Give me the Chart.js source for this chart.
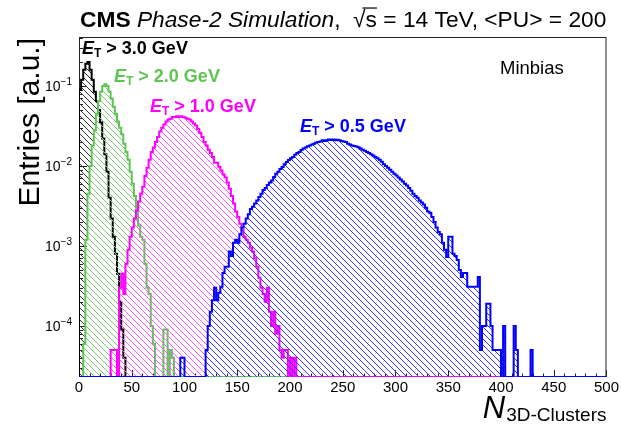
<!DOCTYPE html>
<html><head><meta charset="utf-8">
<script src="https://cdn.jsdelivr.net/npm/chart.js@4.4.1/dist/chart.umd.min.js"></script>
<style>html,body{margin:0;padding:0;background:#fff;}#wrap{width:621px;height:425px;}</style>
</head><body><div id="wrap"><canvas id="c" width="621" height="425"></canvas></div>
<script>
// ---------------- data ----------------
const BIN_WIDTH = 2;
const X_MIN = 0, X_MAX = 500;
const Y_MIN = 2.3e-5, Y_MAX = 0.41;
const xTickValues = [0, 50, 100, 150, 200, 250, 300, 350, 400, 450, 500];
const yTickValues = [1e-4, 1e-3, 1e-2, 1e-1];
const yTickExponents = ['\u22124', '\u22123', '\u22122', '\u22121'];

const seriesLabels = ['3.0', '2.0', '1.0', '0.5'];

const blackStart = 0;
const blackValues = [0.09, 0.12, 0.16, 0.19, 0.2, 0.16, 0.12, 0.085, 0.065, 0.05,
  0.035, 0.022, 0.014, 0.0085, 0.004, 0.0022, 0.0013, 0.0008, 0.00045, 0.0002,
  0.00009, 0.00004];

const greenStart = 4;
const greenValues = [0.00006, 0.0012, 0.0045, 0.01, 0.018, 0.028, 0.045, 0.065, 0.085, 0.1,
  0.105, 0.1, 0.085, 0.07, 0.055, 0.045, 0.036, 0.03, 0.025, 0.019,
  0.015, 0.012, 0.0085, 0.006, 0.0042, 0.003, 0.0018, 0.0013, 0.0012, 0.0006,
  0.0003, 0.00025, 0.0001, 0.00006, 0, 0, 0, 0, 0.00009, 0.00009,
  0, 0.00005, 0.00004];

const magentaStart = 30;
const magentaValues = [0.00005, 0.00005, 0.00005, 0, 0.0003, 0.00045, 0.00025, 0.0006, 0.0009, 0.0013,
  0.0017, 0.0022, 0.0028, 0.0036, 0.0045, 0.0055, 0.0075, 0.0095, 0.012, 0.015,
  0.017, 0.02, 0.023, 0.027, 0.03, 0.033, 0.036, 0.038, 0.039, 0.041,
  0.041, 0.042, 0.041, 0.042, 0.041, 0.04, 0.039, 0.038, 0.036, 0.034,
  0.032, 0.029, 0.026, 0.023, 0.02, 0.018, 0.016, 0.0145, 0.013, 0.011,
  0.011, 0.0098, 0.0088, 0.0078, 0.0072, 0.0062, 0.0052, 0.0042, 0.0034, 0.0027,
  0.0023, 0.0019, 0.0016, 0.0013, 0.0012, 0.0011, 0.00095, 0.00085, 0.0007, 0.00055,
  0.0004, 0.0003, 0.00025, 0.0002, 0.0003, 0.00015, 0.0001, 0.00015, 0.00008, 0.0001,
  0.00005, 0.00004, 0.00005, 0.00005, 0, 0.00004, 0, 0.00004];

const blueStart = 96;
const blueValues = [0.00004, 0.00004, 0, 0, 0, 0, 0, 0, 0, 0,
  0, 0, 0.00005, 0.0001, 0.00015, 0.00021, 0.0003, 0.00021, 0.00026, 0.00031,
  0.00046, 0.00055, 0.00055, 0.00085, 0.00075, 0.0011, 0.0012, 0.0011, 0.0014, 0.0017,
  0.0019, 0.0022, 0.0025, 0.0029, 0.0031, 0.0034, 0.0037, 0.0041, 0.0045, 0.005,
  0.0053, 0.0058, 0.0062, 0.0066, 0.0073, 0.008, 0.0085, 0.0092, 0.0097, 0.0105,
  0.0112, 0.0119, 0.0125, 0.013, 0.0138, 0.0145, 0.015, 0.0158, 0.0165, 0.017,
  0.0176, 0.018, 0.0185, 0.019, 0.0196, 0.02, 0.0203, 0.021, 0.0205, 0.021,
  0.0215, 0.0212, 0.0215, 0.021, 0.0213, 0.021, 0.0205, 0.0203, 0.02, 0.019,
  0.0185, 0.018, 0.0178, 0.0175, 0.0172, 0.0165, 0.016, 0.0155, 0.015, 0.0145,
  0.014, 0.0135, 0.013, 0.0125, 0.012, 0.0113, 0.0105, 0.01, 0.0095, 0.009,
  0.0085, 0.008, 0.0076, 0.0072, 0.0068, 0.0064, 0.006, 0.0057, 0.0053, 0.0049,
  0.0045, 0.0042, 0.004, 0.0037, 0.0035, 0.0033, 0.003, 0.0027, 0.0026, 0.0023,
  0.002, 0.0017, 0.0015, 0.0014, 0.0011, 0.0009, 0.00073, 0.0013, 0.0013, 0.0008,
  0.00075, 0.00067, 0.0005, 0.00041, 0.00046, 0.00046, 0.00031, 0.00031, 0.00031, 0.00031,
  0.00031, 0.00041, 0.00005, 0.0001, 0.0001, 0.00019, 0.00019, 0.0001, 0.00005, 0.00005,
  0.00005, 0.00005, 0, 0.0001, 0, 0, 0, 0, 0.0001, 0.00005,
  0, 0, 0, 0, 0, 0, 0.00005];

// ---------------- helpers ----------------
const FONT = "'Liberation Sans', Arial, Helvetica, sans-serif";

function histPoints(start, values) {
  const pts = [{x: X_MIN, y: Y_MIN}, {x: start, y: Y_MIN}];
  values.forEach((v, i) => pts.push({x: start + i * BIN_WIDTH, y: v > Y_MIN ? v : Y_MIN}));
  const end = start + values.length * BIN_WIDTH;
  pts.push({x: end, y: Y_MIN});
  pts.push({x: X_MAX, y: Y_MIN});
  return pts;
}

function hatch(color, lw) {
  const s = 6;
  const cv = document.createElement('canvas');
  cv.width = s; cv.height = s;
  const g = cv.getContext('2d');
  g.strokeStyle = color; g.lineWidth = lw;
  g.beginPath();
  g.moveTo(-1, -1); g.lineTo(s + 1, s + 1);
  g.moveTo(-2, s - 2); g.lineTo(2, s + 2);
  g.moveTo(s - 2, -2); g.lineTo(s + 2, 2);
  g.stroke();
  return document.getElementById('c').getContext('2d').createPattern(cv, 'repeat');
}

const COLORS = {
  black: '#000000', green: '#5ec453', magenta: '#ff00ff', blue: '#0000ff'
};

function ds(label, start, values, line, hatchColor, order) {
  return {
    label, data: histPoints(start, values),
    borderColor: line, borderWidth: 2, backgroundColor: hatch(hatchColor, 1),
    fill: 'start', stepped: 'before', pointRadius: 0, tension: 0, order
  };
}

// ---------------- custom drawing ----------------
function drawParts(ctx, parts, x, y) {
  parts.forEach(p => {
    ctx.font = p.font;
    ctx.fillText(p.t, x, y + (p.dy || 0));
    x += ctx.measureText(p.t).width;
  });
  return x;
}

function etLabel(ctx, text, color, x, y, size) {
  ctx.fillStyle = color; ctx.textBaseline = 'alphabetic'; ctx.textAlign = 'left';
  drawParts(ctx, [
    {t: 'E', font: `italic bold ${size}px ${FONT}`},
    {t: 'T', font: `bold ${Math.round(size * 0.68)}px ${FONT}`, dy: 3},
    {t: ' > ' + text + ' GeV', font: `bold ${size}px ${FONT}`}
  ], x, y);
}

const rootStyle = {
  id: 'rootStyle',
  beforeDatasetsDraw(chart) {
    const ctx = chart.ctx, a = chart.chartArea;
    const xs = chart.scales.x, ys = chart.scales.y;
    ctx.save();
    ctx.strokeStyle = '#222'; ctx.lineWidth = 1;
    ctx.strokeRect(a.left + 0.5, a.top + 0.5, a.right - a.left - 1, a.bottom - a.top - 1);
    ctx.beginPath();
    for (let v = X_MIN; v <= X_MAX; v += 10) {
      const px = Math.round(xs.getPixelForValue(v)) + 0.5;
      const len = v % 50 === 0 ? 7 : 3.5;
      ctx.moveTo(px, a.bottom); ctx.lineTo(px, a.bottom - len);
    }
    for (let k = -5; k <= -1; k++) {
      for (let m = 1; m <= 9; m++) {
        const v = m * Math.pow(10, k);
        if (v < Y_MIN || v > Y_MAX) continue;
        const py = Math.round(ys.getPixelForValue(v)) + 0.5;
        const len = m === 1 ? 8 : 4;
        ctx.moveTo(a.left, py); ctx.lineTo(a.left + len, py);
      }
    }
    ctx.stroke();
    ctx.restore();
  },
  afterDraw(chart) {
    const ctx = chart.ctx, a = chart.chartArea;
    const ys = chart.scales.y;
    ctx.save();
    // y tick labels 10^n
    ctx.fillStyle = '#000'; ctx.textBaseline = 'alphabetic'; ctx.textAlign = 'right';
    yTickValues.forEach((v, i) => {
      const py = ys.getPixelForValue(v);
      ctx.font = `10px ${FONT}`;
      const sw = ctx.measureText(yTickExponents[i]).width;
      ctx.fillText(yTickExponents[i], 72, py - 1);
      ctx.font = `14px ${FONT}`;
      ctx.fillText('10', 72 - sw, py + 5);
    });
    // title
    ctx.textAlign = 'left';
    const parts = [
      {t: 'CMS', font: 'bold'},
      {t: ' ', font: ''},
      {t: 'Phase-2 Simulation', font: 'italic'},
      {t: ',  ', font: ''},
      {t: '\u221A', font: '', root: true},
      {t: 's', font: '', over: true},
      {t: ' = 14 TeV, <PU> = 200', font: ''}
    ];
    let base = 20, total = 0;
    parts.forEach(p => { ctx.font = `${p.font} ${base}px ${FONT}`; total += ctx.measureText(p.t).width; });
    const fs = base * (a.right - 80) / total;
    let x = 80, rootX = 0;
    parts.forEach(p => {
      ctx.font = `${p.font} ${fs}px ${FONT}`;
      ctx.fillStyle = '#000';
      ctx.fillText(p.t, x, 27);
      const w = ctx.measureText(p.t).width;
      if (p.root) rootX = x + w * 0.75;
      if (p.over) {
        ctx.fillRect(rootX, 27 - fs * 0.86, x + w - rootX, 1.2);
      }
      x += w;
    });
    // y axis title
    ctx.save();
    ctx.translate(39, a.top + 1);
    ctx.rotate(-Math.PI / 2);
    ctx.textAlign = 'right';
    ctx.font = `30px ${FONT}`;
    ctx.fillText('Entries [a.u.]', 0, 0);
    ctx.restore();
    // x axis title
    ctx.textAlign = 'right';
    ctx.font = `19px ${FONT}`;
    const subW = ctx.measureText('3D-Clusters').width;
    ctx.fillText('3D-Clusters', a.right, 421);
    ctx.font = `italic 31px ${FONT}`;
    ctx.fillText('N', a.right - subW - 1, 418);
    // annotations
    etLabel(ctx, seriesLabels[0], COLORS.black, 82, 54, 18);
    etLabel(ctx, seriesLabels[1], COLORS.green, 114, 82, 18);
    etLabel(ctx, seriesLabels[2], COLORS.magenta, 150, 112, 18);
    etLabel(ctx, seriesLabels[3], COLORS.blue, 300, 132, 18);
    ctx.font = `18.5px ${FONT}`; ctx.fillStyle = '#000'; ctx.textAlign = 'left';
    ctx.fillText('Minbias', 500, 74);
    ctx.restore();
  }
};

new Chart(document.getElementById('c'), {
  type: 'line',
  data: {
    datasets: [
      ds('E_T > 0.5 GeV', blueStart, blueValues, COLORS.blue, '#3535ff', 0),
      ds('E_T > 1.0 GeV', magentaStart, magentaValues, COLORS.magenta, '#ff55ff', 1),
      ds('E_T > 2.0 GeV', greenStart, greenValues, COLORS.green, '#7acc70', 2),
      ds('E_T > 3.0 GeV', blackStart, blackValues, COLORS.black, '#333333', 3)
    ]
  },
  options: {
    responsive: false, animation: false, devicePixelRatio: 1,
    layout: {padding: {left: 0, right: 14, top: 37, bottom: 0}},
    plugins: {legend: {display: false}, tooltip: {enabled: false}},
    elements: {line: {borderJoinStyle: 'miter'}},
    scales: {
      x: {
        type: 'linear', min: X_MIN, max: X_MAX,
        afterBuildTicks: s => { s.ticks = xTickValues.map(v => ({value: v})); },
        ticks: {font: {family: FONT, size: 15}, color: '#000', padding: 2, maxRotation: 0, autoSkip: false},
        grid: {display: false, drawTicks: false}, border: {display: false},
        afterFit: s => { s.height = 48; }
      },
      y: {
        type: 'logarithmic', min: Y_MIN, max: Y_MAX,
        ticks: {display: false},
        grid: {display: false, drawTicks: false}, border: {display: false},
        afterFit: s => { s.width = 79; }
      }
    }
  },
  plugins: [rootStyle]
});
</script>
</body></html>
